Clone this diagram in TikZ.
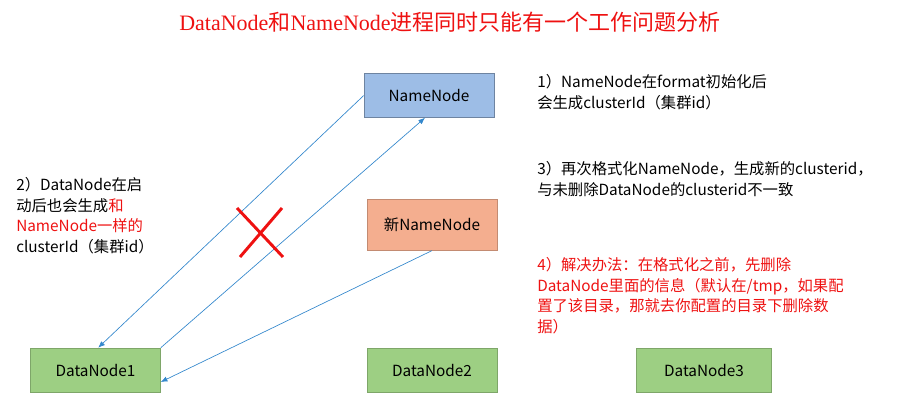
\documentclass[tikz,border=0pt]{standalone}
\usepackage{fontspec}
\setmainfont{Noto Sans CJK SC}
\newfontfamily\lserif{Liberation Serif}
\newfontfamily\cjk{Noto Sans CJK SC}
\begin{document}
\begin{tikzpicture}[x=0.75pt,y=-0.75pt,
  box/.style={draw=#1!70!black!60, line width=0.4pt, minimum width=97.5pt, minimum height=33pt, inner sep=0pt, font=\fontsize{11.5}{13}\selectfont},
  conn/.style={draw=blue!45!cyan!60!gray, line width=0.5pt, -{Latex[length=5pt,width=4pt]}},
  txt/.style={anchor=north west, align=left, inner sep=0pt, font=\fontsize{11.5}{15.5}\selectfont}]
\usetikzlibrary{arrows.meta}
\useasboundingbox (0,0) rectangle (906,402);
\definecolor{nnblue}{HTML}{9DBDE6}
\definecolor{nnorange}{HTML}{F4AE8F}
\definecolor{dngreen}{HTML}{9DCF83}
\definecolor{myred}{HTML}{EE1111}
\node[font=\fontsize{16.5}{18}\selectfont, text=myred] (title) at (450,22) {{\lserif DataNode}和{\lserif NameNode}进程同时只能有一个工作问题分析};
\node[box=blue, fill=nnblue, draw=nnblue!70!black] (nn) at (429,95.5) {NameNode};
\node[box=red, fill=nnorange, draw=nnorange!80!black, minimum width=97.5pt, minimum height=38pt] (nnn) at (432,225) {新NameNode};
\node[box=green, fill=dngreen, draw=dngreen!80!black] (d1) at (95.5,370) {DataNode1};
\node[box=green, fill=dngreen, draw=dngreen!80!black] (d2) at (432,370) {DataNode2};
\node[box=green, fill=dngreen, draw=dngreen!80!black, minimum width=101pt] (d3) at (704,370) {DataNode3};
\draw[conn] (nn.west) -- ([xshift=2pt]d1.north);
\draw[conn] (d1.north east) -- ([xshift=-3pt]nn.south);
\draw[conn] (nnn.south) -- ([yshift=-9pt]d1.east);
\draw[myred, line width=2.2pt] (237,208) -- (283,257) (282,208) -- (240,257);
\node[txt] (t1) at (537,74) {1）NameNode在format初始化后\\会生成clusterId（集群id）};
\node[txt] (t3) at (537,161) {3）再次格式化NameNode，生成新的clusterid，\\与未删除DataNode的clusterid不一致};
\node[txt] (t2) at (16,177) {2）DataNode在启\\动后也会生成\textcolor{myred}{和}\\\textcolor{myred}{NameNode一样的}\\clusterId（集群id）};
\node[txt, text=myred] (t4) at (537,257) {4）解决办法：在格式化之前，先删除\\DataNode里面的信息（默认在/tmp，如果配\\置了该目录，那就去你配置的目录下删除数\\据）};
\end{tikzpicture}
\end{document}
